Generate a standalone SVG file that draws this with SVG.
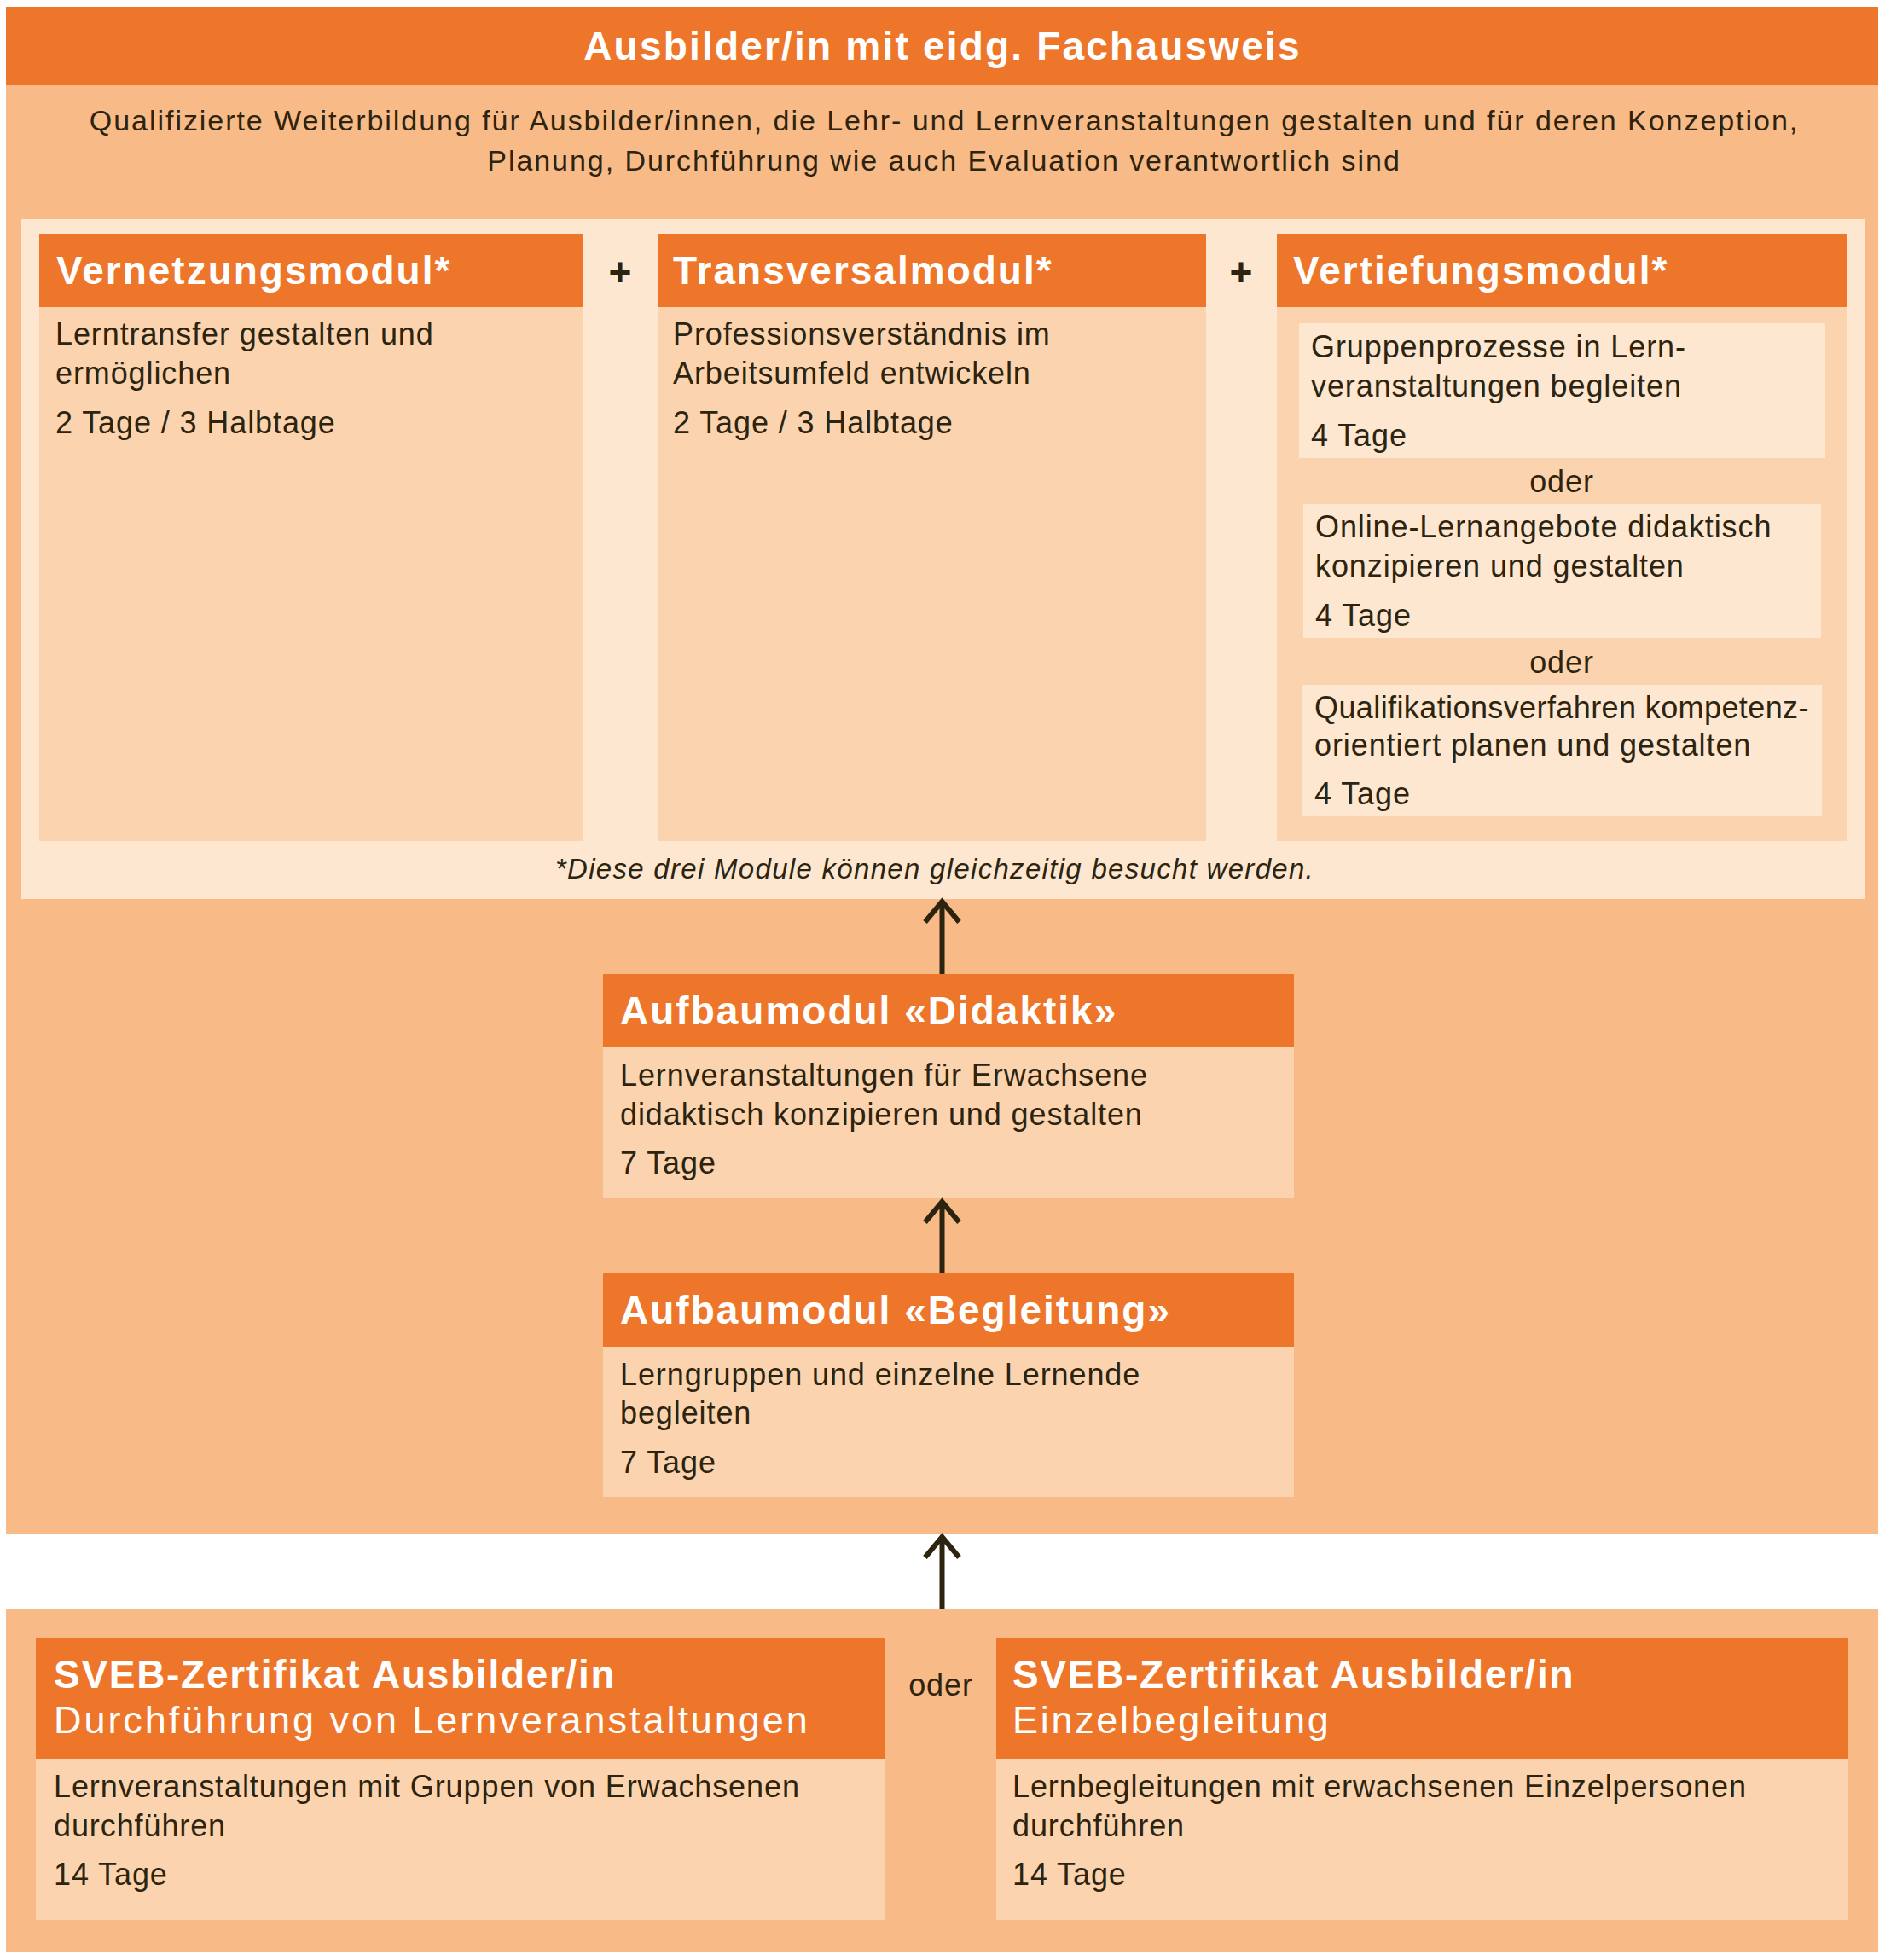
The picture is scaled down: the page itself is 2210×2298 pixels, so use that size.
<svg xmlns="http://www.w3.org/2000/svg" width="2210" height="2298" viewBox="0 0 2210 2298">
<defs>
<style>
.hdr{fill:#EE762B}
.outer{fill:#F8BA87}
.bd{fill:#FBD4AF}
.lt{fill:#FDE7D1}
text{font-family:"Liberation Sans",Arial,sans-serif}
.ti{font-weight:bold;font-size:46px;fill:#FFFFFF;letter-spacing:2px}
.tb{font-weight:bold;font-size:46px;fill:#FFFFFF;letter-spacing:1.7px}
.ts{font-size:45px;fill:#FFFFFF;letter-spacing:2.7px}
.b{font-size:36px;fill:#2D2410;letter-spacing:0.9px}
.intro{font-size:34px;fill:#2D2410;letter-spacing:1.95px}
.fn{font-size:33px;font-style:italic;fill:#2D2410;letter-spacing:1.3px}
.plus{font-weight:bold;font-size:46px;fill:#2D2410}
.arr{stroke:#2D2410;stroke-width:6;fill:none}
</style>
<marker id="ah" markerUnits="userSpaceOnUse" viewBox="-30 -26 36 52" markerWidth="36" markerHeight="52" refX="0" refY="0" orient="auto" overflow="visible">
<path d="M-24,-20 L0,0 L-24,20" fill="none" stroke="#2D2410" stroke-width="6" stroke-linejoin="miter"/>
</marker>
</defs>
<rect width="2210" height="2298" fill="#FFFFFF"/>

<g id="main">
<rect class="outer" x="7" y="8" width="2195" height="1791"/>
<rect class="hdr" x="7" y="8" width="2195" height="92"/>
<text class="ti" x="1105" y="70" text-anchor="middle" style="letter-spacing:2.2px">Ausbilder/in mit eidg. Fachausweis</text>
<text class="intro" x="1107" y="153" text-anchor="middle">Qualifizierte Weiterbildung für Ausbilder/innen, die Lehr- und Lernveranstaltungen gestalten und für deren Konzeption,</text>
<text class="intro" x="1107" y="200" text-anchor="middle">Planung, Durchführung wie auch Evaluation verantwortlich sind</text>
</g>

<g id="panel">
<rect class="lt" x="25" y="257" width="2161" height="797"/>
<text class="plus" x="727" y="335" text-anchor="middle">+</text>
<text class="plus" x="1455" y="335" text-anchor="middle">+</text>
<text class="fn" x="1096" y="1030" text-anchor="middle">*Diese drei Module können gleichzeitig besucht werden.</text>
</g>

<g id="vernetzung">
<rect class="hdr" x="46" y="274" width="638" height="86"/>
<rect class="bd" x="46" y="360" width="638" height="626"/>
<text class="ti" x="66" y="333">Vernetzungsmodul*</text>
<text class="b" x="65" y="404">Lerntransfer gestalten und</text>
<text class="b" x="65" y="450">ermöglichen</text>
<text class="b" x="65" y="508">2 Tage / 3 Halbtage</text>
</g>

<g id="transversal">
<rect class="hdr" x="771" y="274" width="643" height="86"/>
<rect class="bd" x="771" y="360" width="643" height="626"/>
<text class="ti" x="789" y="333">Transversalmodul*</text>
<text class="b" x="789" y="404">Professionsverständnis im</text>
<text class="b" x="789" y="450">Arbeitsumfeld entwickeln</text>
<text class="b" x="789" y="508">2 Tage / 3 Halbtage</text>
</g>

<g id="vertiefung">
<rect class="hdr" x="1497" y="274" width="669" height="86"/>
<rect class="bd" x="1497" y="360" width="669" height="626"/>
<text class="ti" x="1516" y="333">Vertiefungsmodul*</text>
<g id="vt1">
<rect class="lt" x="1523" y="379" width="617" height="158"/>
<text class="b" x="1537" y="419">Gruppenprozesse in Lern-</text>
<text class="b" x="1537" y="465">veranstaltungen begleiten</text>
<text class="b" x="1537" y="523">4 Tage</text>
</g>
<text class="b" x="1831" y="577" text-anchor="middle">oder</text>
<g id="vt2">
<rect class="lt" x="1528" y="591" width="607" height="157"/>
<text class="b" x="1542" y="630">Online-Lernangebote didaktisch</text>
<text class="b" x="1542" y="676">konzipieren und gestalten</text>
<text class="b" x="1542" y="734">4 Tage</text>
</g>
<text class="b" x="1831" y="789" text-anchor="middle">oder</text>
<g id="vt3">
<rect class="lt" x="1527" y="803" width="609" height="154"/>
<text class="b" x="1541" y="842" style="letter-spacing:0.4px">Qualifikationsverfahren kompetenz-</text>
<text class="b" x="1541" y="886">orientiert planen und gestalten</text>
<text class="b" x="1541" y="943">4 Tage</text>
</g>
</g>

<g id="didaktik">
<rect class="hdr" x="707" y="1142" width="810" height="86"/>
<rect class="bd" x="707" y="1228" width="810" height="177"/>
<text class="ti" x="727" y="1201">Aufbaumodul «Didaktik»</text>
<text class="b" x="727" y="1273">Lernveranstaltungen für Erwachsene</text>
<text class="b" x="727" y="1319">didaktisch konzipieren und gestalten</text>
<text class="b" x="727" y="1376">7 Tage</text>
</g>

<g id="begleitung">
<rect class="hdr" x="707" y="1493" width="810" height="86"/>
<rect class="bd" x="707" y="1579" width="810" height="176"/>
<text class="ti" x="727" y="1552">Aufbaumodul «Begleitung»</text>
<text class="b" x="727" y="1624">Lerngruppen und einzelne Lernende</text>
<text class="b" x="727" y="1669">begleiten</text>
<text class="b" x="727" y="1727">7 Tage</text>
</g>

<g id="sveb">
<rect class="outer" x="7" y="1886" width="2195" height="403"/>
<text class="b" x="1103" y="1988" text-anchor="middle">oder</text>
<g id="sveb-durchfuehrung">
<rect class="hdr" x="42" y="1920" width="996" height="142"/>
<rect class="bd" x="42" y="2062" width="996" height="189"/>
<text class="tb" x="63" y="1979">SVEB-Zertifikat Ausbilder/in</text>
<text class="ts" x="63" y="2032" style="letter-spacing:2.95px">Durchführung von Lernveranstaltungen</text>
<text class="b" x="63" y="2107">Lernveranstaltungen mit Gruppen von Erwachsenen</text>
<text class="b" x="63" y="2153">durchführen</text>
<text class="b" x="63" y="2210">14 Tage</text>
</g>
<g id="sveb-einzel">
<rect class="hdr" x="1168" y="1920" width="999" height="142"/>
<rect class="bd" x="1168" y="2062" width="999" height="189"/>
<text class="tb" x="1187" y="1979">SVEB-Zertifikat Ausbilder/in</text>
<text class="ts" x="1187" y="2032">Einzelbegleitung</text>
<text class="b" x="1187" y="2107">Lernbegleitungen mit erwachsenen Einzelpersonen</text>
<text class="b" x="1187" y="2153">durchführen</text>
<text class="b" x="1187" y="2210">14 Tage</text>
</g>
</g>

<g id="connectors">
<line class="arr" x1="1104.5" y1="1142" x2="1104.5" y2="1057" marker-end="url(#ah)"/>
<line class="arr" x1="1104.5" y1="1493" x2="1104.5" y2="1409" marker-end="url(#ah)"/>
<line class="arr" x1="1104.5" y1="1886" x2="1104.5" y2="1802" marker-end="url(#ah)"/>
</g>
</svg>
